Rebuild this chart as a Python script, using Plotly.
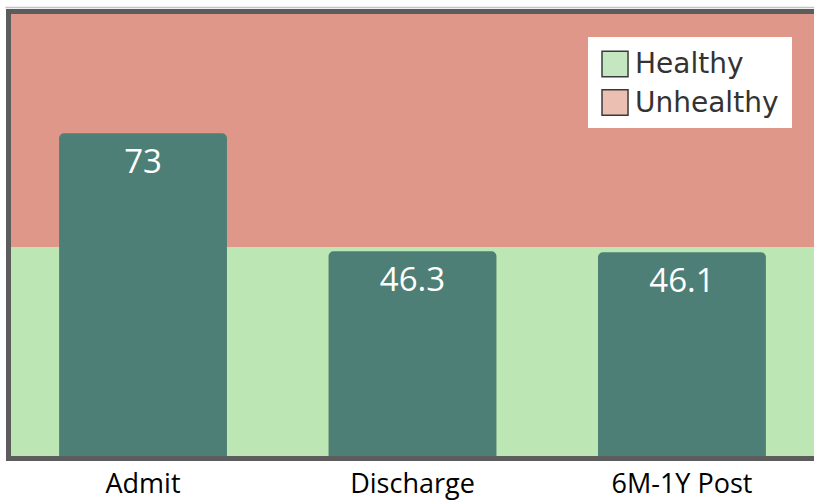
import plotly.graph_objects as go

# Mean scores at each time point
stages = ["Admit", "Discharge", "6M-1Y Post"]
scores = [73, 46.3, 46.1]

# Score bands (healthy below the cut-off, unhealthy above)
band_names = ["Healthy", "Unhealthy"]
cutoff = 47.3
y_max = 100

BAR = "#4e7f76"
RED = "#df978a"
GREEN = "#bce6b3"
FRAME = "#5c5c5c"

fig = go.Figure()

fig.add_trace(go.Bar(
    x=stages,
    y=scores,
    marker=dict(color=BAR, line=dict(width=0)),
    text=[f"{v:g}" for v in scores],
    textposition="inside",
    insidetextanchor="end",
    textangle=0,
    textfont=dict(family="Open Sans", size=33, color="white"),
    showlegend=False,
    hoverinfo="skip",
))

# Background bands
fig.add_shape(type="rect", xref="paper", yref="y", x0=0, x1=1, y0=0, y1=cutoff,
              fillcolor=GREEN, line=dict(width=0), layer="below")
fig.add_shape(type="rect", xref="paper", yref="y", x0=0, x1=1, y0=cutoff, y1=y_max,
              fillcolor=RED, line=dict(width=0), layer="below")

# Thin light rule above the frame
fig.add_shape(type="line", xref="paper", yref="paper", x0=-0.007, x1=1,
              y0=1.0145, y1=1.0145, line=dict(color="#c4c4c4", width=1.5))

# Hand-drawn legend box (paper coords over the 803x442 plot area)
legend_fills = ["#c4e6c0", "#ecbfb3"]
fig.add_shape(type="rect", xref="paper", yref="paper",
              x0=0.7186, x1=0.9726, y0=0.7421, y1=0.9480,
              fillcolor="white", line=dict(width=0), layer="above")
for i, (name, fill) in enumerate(zip(band_names, legend_fills)):
    yc = 0.8869 - i * 0.0871
    fig.add_shape(type="rect", xref="paper", yref="paper",
                  x0=0.7360, x1=0.7684, y0=yc - 0.0290, y1=yc + 0.0290,
                  fillcolor=fill, line=dict(color="#3a3a3a", width=1.5), layer="above")
    fig.add_annotation(xref="paper", yref="paper", x=0.7750, y=yc,
                       text=name, showarrow=False, xanchor="left", yanchor="middle",
                       font=dict(family="DejaVu Sans", size=28, color="#333333"))

fig.update_layout(
    width=814,
    height=504,
    margin=dict(l=11, r=0, t=14, b=48, autoexpand=False),
    paper_bgcolor="white",
    plot_bgcolor=GREEN,
    bargap=0.377,
    barcornerradius=5,
    showlegend=False,
    xaxis=dict(
        range=[-0.49, 2.49],
        automargin=False,
        showgrid=False,
        zeroline=False,
        showline=True,
        linecolor=FRAME,
        linewidth=5,
        mirror=True,
        ticks="",
        tickfont=dict(family="Open Sans", size=27, color="black"),
        ticklabelstandoff=0,
    ),
    yaxis=dict(
        range=[0, y_max],
        automargin=False,
        showgrid=False,
        zeroline=False,
        showline=True,
        linecolor=FRAME,
        linewidth=5,
        showticklabels=False,
        ticks="",
    ),
)

fig.write_html("out.html")
